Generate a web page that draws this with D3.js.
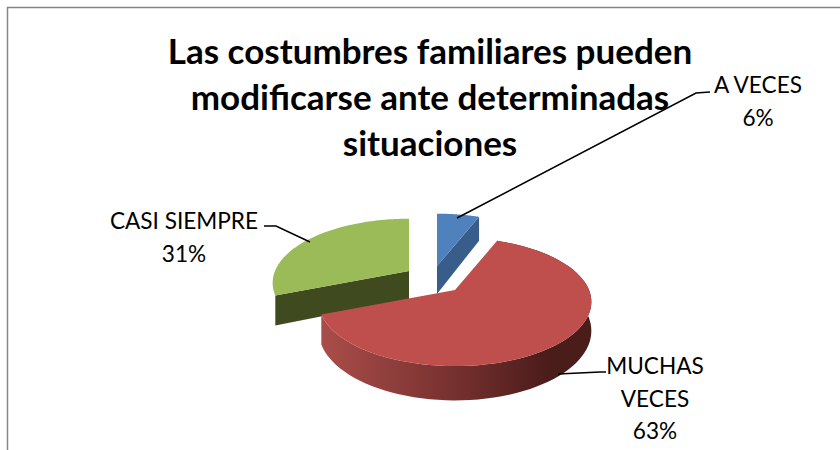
<!DOCTYPE html>
<html>
<head>
<meta charset="utf-8">
<script src="https://cdn.jsdelivr.net/npm/d3@7"></script>
<style>
    html, body { margin: 0; padding: 0; background: #fff; overflow: hidden; }
    text { font-family: Lato, "Open Sans", sans-serif; fill: #000; }
</style>
</head>
<body>
<div class="importPie"></div>
<script>
    // Data
    var categories = ["A VECES", "MUCHAS VECES", "CASI SIEMPRE"];
    var values = [6, 63, 31];
    var percentLabels = ["6%", "63%", "31%"];
    var titleLines = ["Las costumbres familiares pueden", "modificarse ante determinadas", "situaciones"];

    // Colours and layout, one entry per slice
    var topColors = ["#4f81bd", "#be4f4c", "#9bbb59"];
    var sideColors = ["#385d8a", "url(#redSide)", "#3f4a1f"];
    var showWall = [false, true, false];
    var apex = [[437, 266], [455, 290], [409, 271]];
    var labelLines = [
        { lines: ["A VECES", "6%"], x: 758, y: 93 },
        { lines: ["MUCHAS", "VECES", "63%"], x: 655, y: 374 },
        { lines: ["CASI SIEMPRE", "31%"], x: 184, y: 229 }
    ];
    var leaders = [
        [[457, 218], [696, 93], [710, 92]],
        [[558, 374], [600, 372], [606, 372]],
        [[310, 242], [276, 226], [264, 226]]
    ];

    var width = 840,
        height = 450,
        radiusX = 134,
        radiusY = 62,
        perspective = 0.185,
        depth = 28;

    var svg = d3.select(".importPie")
        .append("svg")
        .attr("width", width)
        .attr("height", height);

    var grad = svg.append("defs").append("linearGradient")
        .attr("id", "redSide")
        .attr("gradientUnits", "userSpaceOnUse")
        .attr("x1", 322).attr("x2", 590)
        .attr("y1", 0).attr("y2", 0);
    grad.append("stop").attr("offset", "0%").attr("stop-color", "#aa4d4a");
    grad.append("stop").attr("offset", "45%").attr("stop-color", "#7b3331");
    grad.append("stop").attr("offset", "85%").attr("stop-color", "#4a1c1a");
    grad.append("stop").attr("offset", "100%").attr("stop-color", "#4a1c1a");

    // Frame: only the top and left edges show in the crop
    var frame = d3.line();
    svg.append("path")
        .attr("d", frame([[7.5, height], [7.5, 7.5], [width, 7.5]]))
        .attr("fill", "none")
        .attr("stroke", "#868686")
        .attr("stroke-width", 1.5);

    var pie = d3.pie().sort(null).value(function (d) { return d; });
    var slices = pie(values);
    var line = d3.line();

    // angle on the disc -> screen point, front of the disc is drawn larger
    function project(origin, r, angle, drop) {
        var x = r * Math.sin(angle),
            y = -r * Math.cos(angle),
            w = 1 / (1 - perspective * y);
        return [
            origin[0] + radiusX * x * w,
            origin[1] + radiusY * y * w + (drop ? depth * w : 0)
        ];
    }

    function arcAngles(d) {
        var n = 80;
        return d3.range(n + 1).map(function (i) {
            return d.startAngle + (d.endAngle - d.startAngle) * i / n;
        });
    }

    function topPath(d, i) {
        var pts = arcAngles(d).map(function (a) { return project(apex[i], 1, a, false); });
        pts.unshift(project(apex[i], 0, 0, false));
        return line(pts) + "Z";
    }

    // outer wall of the slice
    function wallPath(d, i) {
        var angles = arcAngles(d);
        var upper = angles.map(function (a) { return project(apex[i], 1, a, false); });
        var lower = angles.slice().reverse().map(function (a) { return project(apex[i], 1, a, true); });
        return line(upper.concat(lower)) + "Z";
    }

    // the cut faces from centre to rim
    function cutPath(d, i, angle) {
        return line([
            project(apex[i], 0, 0, false),
            project(apex[i], 1, angle, false),
            project(apex[i], 1, angle, true),
            project(apex[i], 0, 0, true)
        ]) + "Z";
    }

    // back slices first, red sits in front
    var order = [2, 0, 1];
    var g = svg.selectAll(".arc")
        .data(order.map(function (i) { return { d: slices[i], i: i }; }))
        .enter().append("g")
        .attr("class", "arc");

    g.filter(function (s) { return !showWall[s.i]; })
        .append("path")
        .attr("d", function (s) { return cutPath(s.d, s.i, s.d.startAngle); })
        .style("fill", function (s) { return sideColors[s.i]; });
    g.filter(function (s) { return !showWall[s.i]; })
        .append("path")
        .attr("d", function (s) { return cutPath(s.d, s.i, s.d.endAngle); })
        .style("fill", function (s) { return sideColors[s.i]; });
    g.filter(function (s) { return showWall[s.i]; })
        .append("path")
        .attr("d", function (s) { return wallPath(s.d, s.i); })
        .style("fill", function (s) { return sideColors[s.i]; });
    g.append("path")
        .attr("d", function (s) { return topPath(s.d, s.i); })
        .style("fill", function (s) { return topColors[s.i]; });

    // Leader lines
    svg.selectAll(".leader")
        .data(leaders)
        .enter().append("path")
        .attr("class", "leader")
        .attr("d", function (d) { return line(d); })
        .attr("fill", "none")
        .attr("stroke", "#000")
        .attr("stroke-width", 1.5);

    // Data labels
    labelLines.forEach(function (lab) {
        lab.lines.forEach(function (t, k) {
            svg.append("text")
                .attr("x", lab.x)
                .attr("y", lab.y + k * 32.5)
                .attr("text-anchor", "middle")
                .style("font-size", "22.6px")
                .text(t);
        });
    });

    // Title
    svg.selectAll(".title")
        .data(titleLines)
        .enter().append("text")
        .attr("class", "title")
        .attr("x", 430)
        .attr("y", function (d, i) { return 64 + i * 46; })
        .attr("text-anchor", "middle")
        .style("font-size", "35px")
        .style("font-weight", "bold")
        .text(function (d) { return d; });
</script>
</body>
</html>
